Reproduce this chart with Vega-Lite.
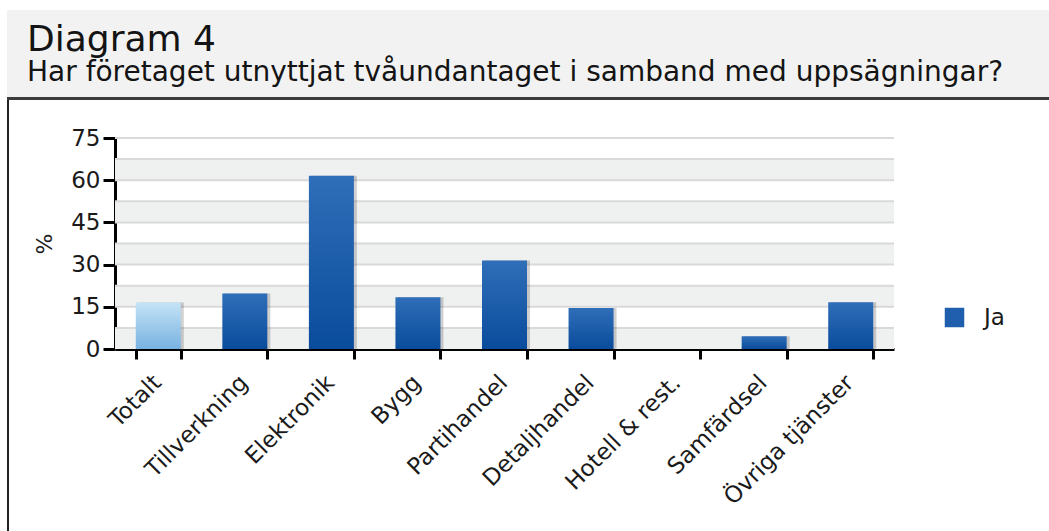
{
  "$schema": "https://vega.github.io/schema/vega-lite/v6.json",
  "padding": {"left": 7, "top": 10, "right": 0, "bottom": 0},
  "background": "white",
  "spacing": 0,
  "config": {
    "font": "DejaVu Sans",
    "view": {"stroke": null},
    "axis": {"labelColor": "#1a1a1a", "titleColor": "#1a1a1a", "domainColor": "#000000", "tickColor": "#000000", "domainWidth": 3, "tickWidth": 3, "grid": false, "titleFontWeight": "normal"},
    "axisX": {"labelAngle": -45, "labelFontSize": 23, "tickBand": "extent", "tickSize": 10, "labelPadding": 12, "labelOffset": -9},
    "axisY": {"labelFontSize": 23, "tickSize": 12, "labelPadding": 3, "titleFontSize": 22, "titlePadding": 14},
    "legend": {"orient": "none", "legendX": 936, "legendY": 296, "symbolType": "square", "symbolSize": 380, "symbolStrokeWidth": 0, "symbolOpacity": 1, "labelFontSize": 23, "labelColor": "#1a1a1a", "labelOffset": 18}
  },
  "datasets": {
    "rows": [
      {"bransch": "Totalt", "andel": 16.5, "serie": "Ja"},
      {"bransch": "Tillverkning", "andel": 19.7, "serie": "Ja"},
      {"bransch": "Elektronik", "andel": 61.6, "serie": "Ja"},
      {"bransch": "Bygg", "andel": 18.4, "serie": "Ja"},
      {"bransch": "Partihandel", "andel": 31.5, "serie": "Ja"},
      {"bransch": "Detaljhandel", "andel": 14.6, "serie": "Ja"},
      {"bransch": "Hotell & rest.", "andel": 0, "serie": "Ja"},
      {"bransch": "Samfärdsel", "andel": 4.5, "serie": "Ja"},
      {"bransch": "Övriga tjänster", "andel": 16.6, "serie": "Ja"}
    ],
    "bands": [
      {"lo": 0, "hi": 7.5},
      {"lo": 15, "hi": 22.5},
      {"lo": 30, "hi": 37.5},
      {"lo": 45, "hi": 52.5},
      {"lo": 60, "hi": 67.5}
    ],
    "grid": [
      {"v": 7.5}, {"v": 15}, {"v": 22.5}, {"v": 30}, {"v": 37.5},
      {"v": 45}, {"v": 52.5}, {"v": 60}, {"v": 67.5}, {"v": 75}
    ],
    "blank": [{"t": ""}],
    "none": []
  },
  "vconcat": [
    {
      "width": 1042,
      "height": 87,
      "view": {"fill": "#f2f2f2", "stroke": null},
      "data": {"name": "blank"},
      "mark": {"type": "text"},
      "encoding": {"text": {"field": "t"}},
      "title": {
        "text": "Diagram 4",
        "subtitle": "Har företaget utnyttjat tvåundantaget i samband med uppsägningar?",
        "anchor": "start",
        "orient": "top",
        "frame": "group",
        "offset": -78,
        "dx": 20,
        "fontSize": 36,
        "subtitleFontSize": 28,
        "fontWeight": "normal",
        "subtitleFontWeight": "normal",
        "color": "#141414",
        "subtitleColor": "#141414",
        "subtitlePadding": 0,
        "font": "DejaVu Sans",
        "subtitleFont": "DejaVu Sans"
      }
    },
    {
      "width": 1042,
      "height": 3,
      "view": {"fill": "#3c3c3c", "stroke": null},
      "data": {"name": "none"},
      "mark": {"type": "point"},
      "encoding": {}
    },
    {
      "spacing": 24,
      "hconcat": [
        {
          "width": 2,
          "height": 431,
          "view": {"fill": "#222222", "stroke": null},
          "data": {"name": "none"},
          "mark": {"type": "point"},
          "encoding": {}
        },
        {
          "spacing": 26,
          "vconcat": [
            {
              "width": 1,
              "height": 1,
              "view": {"fill": null, "stroke": null},
              "data": {"name": "none"},
              "mark": {"type": "point"},
              "encoding": {}
            },
            {
              "width": 779,
              "height": 211,
              "layer": [
                {
                  "data": {"name": "bands"},
                  "mark": {"type": "rect", "color": "#eff0f0"},
                  "encoding": {
                    "y": {"field": "lo", "type": "quantitative", "title": "%"},
                    "y2": {"field": "hi"}
                  }
                },
                {
                  "data": {"name": "grid"},
                  "mark": {"type": "rule", "color": "#d9d9d9", "strokeWidth": 2},
                  "encoding": {
                    "y": {"field": "v", "type": "quantitative", "title": "%"}
                  }
                },
                {
                  "data": {"name": "rows"},
                  "transform": [{"filter": "datum.andel > 0"}],
                  "mark": {"type": "bar", "color": "#000000", "opacity": 0.18, "xOffset": 3},
                  "encoding": {
                    "x": {"field": "bransch", "type": "nominal", "title": null, "sort": ["Totalt", "Tillverkning", "Elektronik", "Bygg", "Partihandel", "Detaljhandel", "Hotell & rest.", "Samfärdsel", "Övriga tjänster"]},
                    "y": {"field": "andel", "type": "quantitative", "title": "%"}
                  }
                },
                {
                  "data": {"name": "rows"},
                  "transform": [{"filter": "datum.bransch !== 'Totalt'"}],
                  "mark": {
                    "type": "bar",
                    "color": {
                      "gradient": "linear", "x1": 0, "y1": 0, "x2": 0, "y2": 1,
                      "stops": [{"offset": 0, "color": "#2f6eb8"}, {"offset": 1, "color": "#0a4c9c"}]
                    }
                  },
                  "encoding": {
                    "x": {
                      "field": "bransch", "type": "nominal", "title": null,
                      "sort": ["Totalt", "Tillverkning", "Elektronik", "Bygg", "Partihandel", "Detaljhandel", "Hotell & rest.", "Samfärdsel", "Övriga tjänster"],
                      "scale": {"paddingInner": 0.48, "paddingOuter": 0.24}
                    },
                    "y": {
                      "field": "andel", "type": "quantitative", "title": "%",
                      "scale": {"domain": [0, 75], "nice": false},
                      "axis": {"values": [0, 15, 30, 45, 60, 75]}
                    }
                  }
                },
                {
                  "data": {"name": "rows"},
                  "transform": [{"filter": "datum.bransch === 'Totalt'"}],
                  "mark": {
                    "type": "bar",
                    "color": {
                      "gradient": "linear", "x1": 0, "y1": 0, "x2": 0, "y2": 1,
                      "stops": [{"offset": 0, "color": "#c4e3f6"}, {"offset": 1, "color": "#78b2e1"}]
                    }
                  },
                  "encoding": {
                    "x": {"field": "bransch", "type": "nominal", "title": null, "sort": ["Totalt", "Tillverkning", "Elektronik", "Bygg", "Partihandel", "Detaljhandel", "Hotell & rest.", "Samfärdsel", "Övriga tjänster"]},
                    "y": {"field": "andel", "type": "quantitative", "title": "%"}
                  }
                },
                {
                  "data": {"name": "rows"},
                  "mark": {"type": "bar", "opacity": 0},
                  "encoding": {
                    "x": {"field": "bransch", "type": "nominal", "title": null, "sort": ["Totalt", "Tillverkning", "Elektronik", "Bygg", "Partihandel", "Detaljhandel", "Hotell & rest.", "Samfärdsel", "Övriga tjänster"]},
                    "y": {"field": "andel", "type": "quantitative", "title": "%"},
                    "color": {"field": "serie", "type": "nominal", "title": null, "scale": {"range": ["#1f5fad"]}}
                  }
                }
              ]
            }
          ]
        }
      ]
    }
  ]
}
